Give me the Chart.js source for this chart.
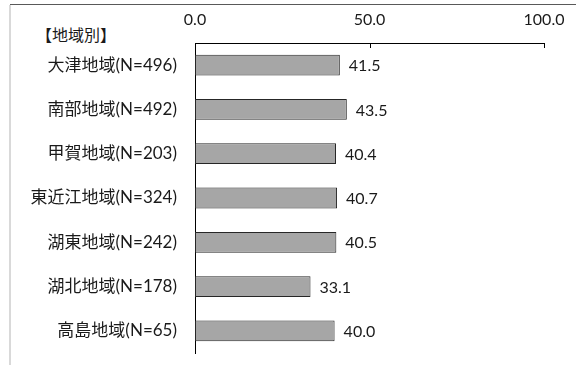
<!DOCTYPE html>
<html>
<head>
<meta charset="utf-8">
<script src="https://cdn.jsdelivr.net/npm/chart.js@4.4.1/dist/chart.umd.min.js"></script>
<style>
  html, body { margin: 0; padding: 0; background: #fff; }
  #wrap { position: relative; width: 576px; height: 365px; }
  #frame-top { position: absolute; left: 10px; top: 4px; right: 0; height: 1px; background: #595959; }
  #frame-left { position: absolute; left: 9px; top: 5px; bottom: 0; width: 2px; background: #d9d9d9; }
  #title {
    position: absolute; left: 36px; top: 22px;
    font: 16px 'Lato', 'Noto Sans CJK JP', sans-serif; color: #1a1a1a;
  }
  canvas { position: absolute; left: 0; top: 0; }
</style>
</head>
<body>
<div id="wrap">
  <div id="frame-top"></div>
  <div id="frame-left"></div>
  <div id="title">【地域別】</div>
  <canvas id="chart" width="576" height="365"></canvas>
</div>
<script>
const regions = [
  '大津地域(N=496)',
  '南部地域(N=492)',
  '甲賀地域(N=203)',
  '東近江地域(N=324)',
  '湖東地域(N=242)',
  '湖北地域(N=178)',
  '高島地域(N=65)',
];
const values = [41.5, 43.5, 40.4, 40.7, 40.5, 33.1, 40.0];
const xTicks = [0, 50, 100];

const FONT = "'Lato', 'Noto Sans CJK JP', sans-serif";
const TEXT = '#1a1a1a';

// value labels to the right of each bar
const barLabels = {
  id: 'barLabels',
  afterDatasetsDraw(chart) {
    const ctx = chart.ctx;
    const meta = chart.getDatasetMeta(0);
    ctx.save();
    ctx.font = '16px ' + FONT;
    ctx.fillStyle = TEXT;
    ctx.textAlign = 'left';
    ctx.textBaseline = 'middle';
    meta.data.forEach((bar, i) => {
      ctx.fillText(values[i].toFixed(1), bar.x + 9, bar.y + 1);
    });
    ctx.restore();
  },
};

// small tick marks pointing down from the top axis
const innerTicks = {
  id: 'innerTicks',
  afterDraw(chart) {
    const ctx = chart.ctx;
    const x = chart.scales.x;
    ctx.save();
    ctx.strokeStyle = '#000';
    ctx.lineWidth = 1;
    xTicks.slice(1).forEach((v) => {
      const px = Math.round(x.getPixelForValue(v)) + 0.5;
      ctx.beginPath();
      ctx.moveTo(px, x.bottom);
      ctx.lineTo(px, x.bottom + 5);
      ctx.stroke();
    });
    ctx.restore();
  },
};

new Chart(document.getElementById('chart'), {
  type: 'bar',
  data: {
    labels: regions,
    datasets: [
      {
        data: values,
        backgroundColor: '#a6a6a6',
        borderColor: '#262626',
        borderWidth: 1,
        borderSkipped: false,
        categoryPercentage: 1,
        barPercentage: 0.47,
      },
    ],
  },
  options: {
    indexAxis: 'y',
    responsive: false,
    animation: false,
    layout: { padding: { left: 0, right: 32, top: 0, bottom: 12 } },
    scales: {
      x: {
        position: 'top',
        min: 0,
        max: 100,
        afterBuildTicks: (scale) => {
          scale.ticks = xTicks.map((v) => ({ value: v }));
        },
        afterFit: (scale) => {
          scale.height = 43;
          scale.paddingLeft = 0;
          scale.paddingRight = 0;
        },
        grid: { display: false, drawTicks: false },
        border: { display: true, color: '#000', width: 1 },
        ticks: {
          padding: 14,
          color: TEXT,
          font: { family: FONT, size: 16 },
          callback: (v) => Number(v).toFixed(1),
        },
      },
      y: {
        afterFit: (scale) => {
          scale.width = 195;
          scale.paddingTop = 0;
          scale.paddingBottom = 0;
        },
        grid: { display: false, drawTicks: false },
        border: { display: true, color: '#000', width: 1 },
        ticks: {
          padding: 18,
          color: TEXT,
          font: { family: FONT, size: 17 },
        },
      },
    },
    plugins: {
      legend: { display: false },
      tooltip: { enabled: false },
    },
  },
  plugins: [barLabels, innerTicks],
});
</script>
</body>
</html>
